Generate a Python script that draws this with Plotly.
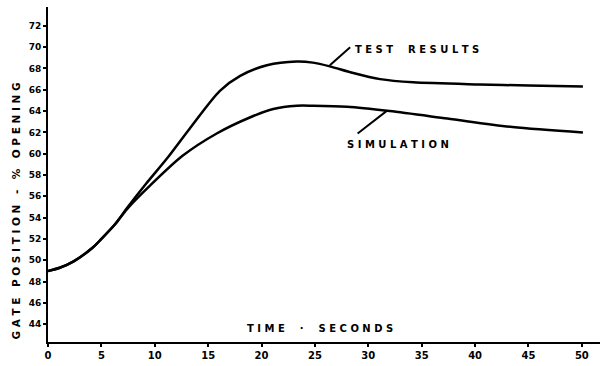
import plotly.graph_objects as go

# Data
test_t = [0, 1.1, 2.4, 4.2, 5.0, 6.3, 7.4, 9.2, 11.1, 13.3, 16.1, 18.0, 20.5, 23.3, 24.8, 26.4, 28.5, 31.1, 34.2, 40.4, 45.0, 50.1]
test_v = [49.0, 49.3, 49.9, 51.2, 52.0, 53.4, 54.9, 57.2, 59.5, 62.4, 65.9, 67.3, 68.3, 68.65, 68.55, 68.2, 67.6, 67.0, 66.7, 66.5, 66.4, 66.3]

sim_t = [0, 1.1, 2.4, 4.2, 5.0, 6.3, 7.4, 9.55, 12.6, 15.8, 18.9, 21.1, 23.3, 24.8, 28.0, 32.0, 37.4, 43.5, 50.1]
sim_v = [49.0, 49.3, 49.9, 51.2, 52.0, 53.4, 54.8, 57.0, 59.8, 61.9, 63.4, 64.2, 64.5, 64.5, 64.4, 64.0, 63.3, 62.5, 62.0]

x_ticks = [0, 5, 10, 15, 20, 25, 30, 35, 40, 45, 50]
y_ticks = [44, 46, 48, 50, 52, 54, 56, 58, 60, 62, 64, 66, 68, 70, 72]


def spaced(text, gap=" ", word_gap="\u2003\u2002"):
    words = text.split(" ")
    return word_gap.join(gap.join(list(w)) for w in words)


FONT = dict(family="DejaVu Sans", size=10, color="black", weight="bold")

fig = go.Figure()
fig.add_trace(go.Scatter(x=test_t, y=test_v, mode="lines",
                         line=dict(color="black", width=2.5, shape="spline", smoothing=0.8),
                         name="TEST RESULTS", showlegend=False))
fig.add_trace(go.Scatter(x=sim_t, y=sim_v, mode="lines",
                         line=dict(color="black", width=2.5, shape="spline", smoothing=0.8),
                         name="SIMULATION", showlegend=False))

# leader lines
fig.add_shape(type="line", x0=26.4, y0=68.3, x1=28.3, y1=70.0,
              line=dict(color="black", width=2))
fig.add_shape(type="line", x0=31.7, y0=64.0, x1=29.0, y1=61.9,
              line=dict(color="black", width=2))

fig.add_annotation(x=28.6, y=69.8, text=spaced("TEST RESULTS"), showarrow=False,
                   xanchor="left", yanchor="middle", font=FONT)
fig.add_annotation(x=27.8, y=60.9, text=spaced("SIMULATION"), showarrow=False,
                   xanchor="left", yanchor="middle", font=FONT)
fig.add_annotation(x=25.5, y=43.6, text=spaced("TIME · SECONDS", word_gap="\u2003\u2002"), showarrow=False,
                   xanchor="center", yanchor="middle", font=FONT)
fig.add_annotation(xref="x domain", yref="y domain", x=-0.072, y=0.39,
                   text=spaced("GATE POSITION - % OPENING", word_gap="\u2002\u2002"),
                   showarrow=False, textangle=-90, font=dict(FONT, size=10.5))

fig.update_xaxes(range=[0, 51.7], tickvals=x_ticks, ticktext=[str(v) for v in x_ticks],
                 showgrid=False, zeroline=False, showline=True, linecolor="black", linewidth=2,
                 ticks="outside", ticklen=3, tickwidth=2, tickcolor="black",
                 tickfont=FONT)
fig.update_yaxes(range=[42.33, 73.77], tickvals=y_ticks, ticktext=[str(v) for v in y_ticks],
                 showgrid=False, zeroline=False, showline=True, linecolor="black", linewidth=2,
                 ticks="outside", ticklen=3, tickwidth=2, tickcolor="black",
                 tickfont=dict(FONT, size=9))

fig.update_layout(width=605, height=366, margin=dict(l=48, r=5, t=7, b=21),
                  plot_bgcolor="white", paper_bgcolor="white")

fig.write_html("out.html")
